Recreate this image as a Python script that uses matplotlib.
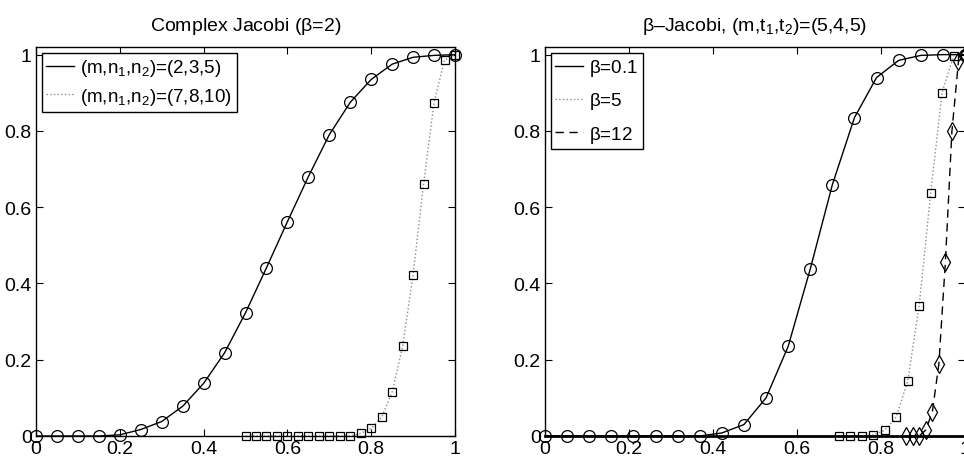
import numpy as np
import matplotlib.pyplot as plt

plt.rcParams['font.family'] = ['Liberation Sans', 'DejaVu Sans']
plt.rcParams['mathtext.fontset'] = 'custom'
plt.rcParams['mathtext.rm'] = 'Liberation Sans'
plt.rcParams['mathtext.it'] = 'Liberation Sans:italic'
plt.rcParams['font.size'] = 14

# left panel: complex Jacobi
x_a = np.linspace(0, 1, 21)
y_a = [0, 0, 0, 0, 0.003, 0.017, 0.038, 0.078, 0.138, 0.218, 0.323,
       0.441, 0.562, 0.68, 0.79, 0.875, 0.935, 0.975, 0.993, 0.998, 1.0]
x_b = np.linspace(0.5, 1, 21)
y_b = [0, 0, 0, 0, 0, 0, 0, 0, 0, 0, 0, 0.007, 0.02, 0.049, 0.115,
       0.235, 0.423, 0.661, 0.874, 0.986, 1.0]
labels_left = [r'(m,n$_1$,n$_2$)=(2,3,5)', r'(m,n$_1$,n$_2$)=(7,8,10)']

# right panel: beta-Jacobi
x_c = np.linspace(0, 1, 20)
y_c = [0, 0, 0, 0, 0, 0, 0, 0, 0.008, 0.03, 0.10, 0.235, 0.438, 0.659,
       0.835, 0.94, 0.985, 0.998, 1.0, 1.0]
x_d = np.linspace(0.7, 1, 12)
y_d = [0, 0, 0, 0.003, 0.015, 0.05, 0.144, 0.342, 0.636, 0.9, 0.997, 1.0]
x_e = np.linspace(0.86, 1, 10)
y_e = [0, 0, 0, 0.016, 0.063, 0.189, 0.457, 0.8, 0.982, 1.0]
labels_right = [r'$\mathrm{\beta}$=0.1', r'$\mathrm{\beta}$=5', r'$\mathrm{\beta}$=12']

ticks = [0, 0.2, 0.4, 0.6, 0.8, 1]
tick_labels = ['0', '0.2', '0.4', '0.6', '0.8', '1']

fig = plt.figure(figsize=(9.64, 4.64), dpi=100)
ax1 = fig.add_axes([36 / 964, 27 / 464, 419 / 964, 389 / 464])
ax2 = fig.add_axes([545 / 964, 27 / 464, 420 / 964, 389 / 464])

mk = dict(linestyle='none', markerfacecolor='none', markeredgecolor='k',
          markeredgewidth=0.9, clip_on=False)

l1, = ax1.plot(x_a, y_a, '-', color='k', lw=1.0, label=labels_left[0])
ax1.plot(x_a, y_a, marker='o', ms=8.5, **mk)
l2, = ax1.plot(x_b, y_b, ':', color='0.55', lw=1.0, label=labels_left[1])
ax1.plot(x_b, y_b, marker='s', ms=6, **mk)

r1, = ax2.plot(x_c, y_c, '-', color='k', lw=1.0, label=labels_right[0])
ax2.plot(x_c, y_c, marker='o', ms=8.5, **mk)
r2, = ax2.plot(x_d, y_d, ':', color='0.55', lw=1.0, label=labels_right[1])
ax2.plot(x_d, y_d, marker='s', ms=6, **mk)
r3, = ax2.plot(x_e, y_e, '--', color='k', lw=1.0, dashes=(6, 4), label=labels_right[2])
ax2.plot(x_e, y_e, marker='d', ms=9, **mk)

for ax in (ax1, ax2):
    ax.set_xlim(0, 1)
    ax.set_ylim(0, 1.02)
    ax.set_xticks(ticks)
    ax.set_xticklabels(tick_labels)
    ax.set_yticks(ticks)
    ax.set_yticklabels(tick_labels)
    ax.tick_params(direction='in', top=True, right=True, length=5,
                   width=0.8, labelsize=14, pad=3)
    for s in ax.spines.values():
        s.set_linewidth(1.0)
ax2.spines['bottom'].set_linewidth(2.0)

ax1.set_title(r'Complex Jacobi ($\mathrm{\beta}$=2)', fontsize=14, pad=12)
ax2.set_title(r'$\mathrm{\beta}$–Jacobi, (m,t$_1$,t$_2$)=(5,4,5)', fontsize=14, pad=12)

legkw = dict(loc='upper left', fancybox=False, edgecolor='k', framealpha=1,
             borderaxespad=0.3, handlelength=1.5, handletextpad=0.3,
             borderpad=0.25, fontsize=13.5)
leg1 = ax1.legend(handles=[l1, l2], labelspacing=0.4, **legkw)
leg2 = ax2.legend(handles=[r1, r2, r3], labelspacing=0.65, **legkw)
for lg in (leg1, leg2):
    lg.get_frame().set_linewidth(1.0)

fig.savefig('out.png', dpi=100)
